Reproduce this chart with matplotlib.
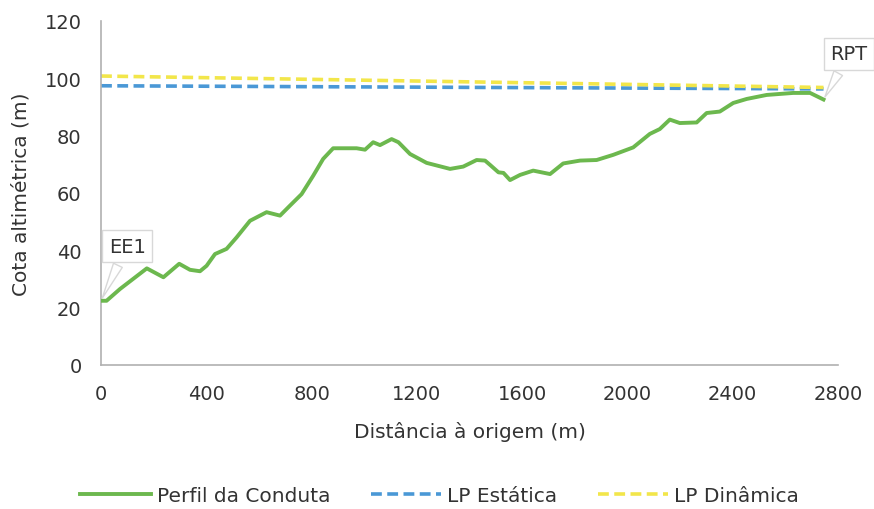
import matplotlib.pyplot as plt

# perfil longitudinal da conduta
dist = [0, 21, 72, 174, 237, 297, 338, 376, 401, 433, 477, 515, 566, 629, 680,
        718, 762, 806, 844, 882, 971, 1003, 1034, 1060, 1104, 1130, 1174, 1237,
        1326, 1376, 1427, 1459, 1478, 1510, 1529, 1554, 1592, 1642, 1706, 1756,
        1820, 1883, 1946, 2022, 2085, 2123, 2161, 2199, 2263, 2301, 2351, 2402,
        2453, 2529, 2630, 2694, 2745]
cota = [22.4, 22.4, 26.5, 33.7, 30.6, 35.3, 33.2, 32.7, 34.6, 38.7, 40.5, 44.5,
        50.3, 53.3, 52.1, 55.6, 59.6, 66.0, 71.9, 75.6, 75.6, 75.1, 77.7, 76.7,
        78.8, 77.7, 73.6, 70.5, 68.4, 69.2, 71.5, 71.3, 69.8, 67.2, 67.0, 64.5,
        66.3, 67.8, 66.6, 70.3, 71.3, 71.5, 73.3, 75.9, 80.6, 82.3, 85.6, 84.4,
        84.6, 87.9, 88.4, 91.4, 92.8, 94.2, 94.9, 94.9, 92.6]

lp_dist = [0, 2745]
lp_estatica = [97.4, 96.3]
lp_dinamica = [100.8, 96.8]

plt.rcParams['font.family'] = ['DejaVu Sans']
fig = plt.figure(figsize=(8.74, 5.10), dpi=100)
ax = fig.add_axes([0.1156, 0.2824, 0.8432, 0.6745])

ax.plot(dist, cota, color='#6cb84e', linewidth=2.8, label='Perfil da Conduta', zorder=3)
ax.plot(lp_dist, lp_estatica, color='#4a98d6', linewidth=2.6, linestyle=(0, (3, 1.5)),
        label='LP Estática', zorder=2)
ax.plot(lp_dist, lp_dinamica, color='#f2e64a', linewidth=2.6, linestyle=(0, (3, 1.5)),
        label='LP Dinâmica', zorder=2)

ax.set_xlim(0, 2800)
ax.set_ylim(0, 120)
ax.set_xticks(range(0, 2801, 400))
ax.set_yticks(range(0, 121, 20))
ax.tick_params(axis='x', length=0, labelsize=14, colors='#333333', pad=14)
ax.tick_params(axis='y', length=0, labelsize=14, colors='#333333', pad=14)
for s in ['top', 'right']:
    ax.spines[s].set_visible(False)
for s in ['left', 'bottom']:
    ax.spines[s].set_color('#b0b0b0')
    ax.spines[s].set_linewidth(1.2)

ax.set_xlabel('Distância à origem (m)', fontsize=14.5, color='#333333', labelpad=13)
ax.set_ylabel('Cota altimétrica (m)', fontsize=14.5, color='#333333', labelpad=10)

box = dict(boxstyle='square,pad=0.35', fc='white', ec='#d8d8d8', lw=1)
arrow = dict(arrowstyle='wedge,tail_width=0.5,shrink_factor=0.5', fc='white',
             ec='#d8d8d8', lw=1)
ax.annotate('EE1', xy=(dist[0], cota[0]), xytext=(99, 41.5), fontsize=14,
            color='#333333', ha='center', va='center', bbox=box,
            arrowprops=arrow, annotation_clip=False, zorder=5)
ax.annotate('RPT', xy=(dist[-1], cota[-1]), xytext=(2842, 108.5), fontsize=14,
            color='#333333', ha='center', va='center', bbox=box,
            arrowprops=arrow, annotation_clip=False, zorder=5)

fig.legend(loc='center', bbox_to_anchor=(0.503, 0.027), ncol=3, frameon=False,
           fontsize=14.5, handlelength=3.5, handletextpad=0.3, columnspacing=2.0,
           labelcolor='#333333')

fig.savefig('out.png', dpi=100)
